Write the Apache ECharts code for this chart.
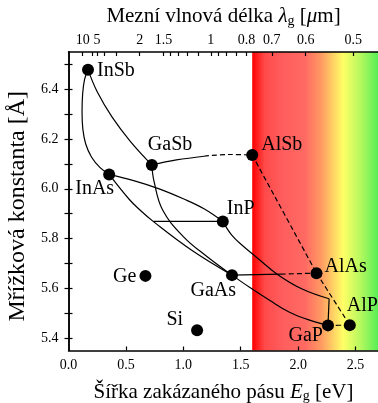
<!DOCTYPE html>
<html><head><meta charset="utf-8">
<script src="https://cdn.jsdelivr.net/npm/echarts@6/dist/echarts.min.js"></script>
<style>html,body{margin:0;padding:0;background:#fff}#c{width:378px;height:403px}</style>
</head><body><div id="c"></div>
<script>
// ---- data ----
const compounds = ['InSb','InAs','GaSb','AlSb','InP','GaAs','AlAs','GaP','AlP','Ge','Si'];
const gapEV =     [0.17, 0.354, 0.726, 1.6, 1.344, 1.424, 2.16, 2.26, 2.45, 0.67, 1.12];
const latticeA =  [6.479, 6.058, 6.096, 6.136, 5.869, 5.653, 5.661, 5.451, 5.452, 5.65, 5.431];

const inSbInAs = [[0.17,6.479],[0.14,6.44],[0.123,6.38],[0.118,6.31],[0.125,6.24],[0.15,6.18],[0.2,6.128],[0.275,6.085],[0.354,6.058]];
const inSbGaSb = [[0.17,6.479],[0.25,6.39],[0.38,6.288],[0.54,6.19],[0.726,6.096]];
const gaSbAlSbSolid = [[0.726,6.096],[0.94,6.116],[1.18,6.131]];
const gaSbAlSbDash = [[1.18,6.131],[1.4,6.138],[1.6,6.136]];
const alSbAlAs = [[1.6,6.136],[2.16,5.661]];
const alAsAlP = [[2.16,5.661],[2.45,5.452]];
const gaPAlP = [[2.26,5.451],[2.45,5.452]];
const gaAsAlAsSolid = [[1.424,5.653],[1.85,5.657]];
const gaAsAlAsDash = [[1.85,5.657],[2.16,5.661]];
const inAsInP = [[0.354,6.058],[0.575,6.032],[0.79,6.0],[1.0,5.96],[1.18,5.92],[1.344,5.869]];
const inAsGaAs = [[0.354,6.058],[0.53,5.957],[0.62,5.916],[0.74,5.868],[1.07,5.754],[1.424,5.653]];
const gaSbGaAs = [[0.726,6.096],[0.745,6.03],[0.82,5.915],[1.0,5.808],[1.2,5.73],[1.424,5.653]];
const gaAsGaP = [[1.424,5.653],[1.577,5.604],[1.751,5.552],[1.925,5.504],[2.099,5.472],[2.26,5.451]];
const inPGaPDirect = [[1.344,5.869],[1.42,5.815],[1.52,5.77],[1.65,5.72],[1.82,5.656],[2.04,5.596],[2.27,5.558]];
const inPGaPIndirect = [[2.27,5.558],[2.26,5.451]];
const inGaAsPMatched = [[0.74,5.869],[1.344,5.869]];

const xLabels = [0, 0.5, 1, 1.5, 2, 2.5];
const xTicks = [0.5, 1, 1.5, 2, 2.5];
const yLabels = [5.4, 5.6, 5.8, 6.0, 6.2, 6.4];
const yTicks = [5.4, 5.5, 5.6, 5.7, 5.8, 5.9, 6.0, 6.1, 6.2, 6.3, 6.4, 6.5];
const lambdaTicks = [10, 6, 5, 4, 3, 2, 1.5, 1.4, 1.3, 1.2, 1.1, 1, 0.95, 0.9, 0.85, 0.8, 0.7, 0.6, 0.5];
const lambdaLabels = [10, 5, 2, 1.5, 1, 0.8, 0.7, 0.6, 0.5];
const visibleStart = 1.6;

// ---- styles ----
const FONT = 'Liberation Serif';
const hc = 1.2398;
const labelPlace = {
  InSb: ['left', [9, 1]], InAs: ['right', [5, 14]], GaSb: ['left', [-4, -20]],
  AlSb: ['left', [9, -10]], InP: ['left', [4, -13]], GaAs: ['right', [4, 16]],
  AlAs: ['left', [8, -6]], GaP: ['right', [-5, 10]], AlP: ['left', [-3, -19]],
  Ge: ['right', [-9, 1]], Si: ['right', [-14, -11]]
};

const chart = echarts.init(document.getElementById('c'), null, {renderer: 'canvas'});
const XMIN = 0, XMAX = 2.7, YMIN = 5.35, YMAX = 6.55;

function lineSeries(data, dashed) {
  return {
    type: 'line', data: data, xAxisIndex: 0, yAxisIndex: 0,
    smooth: 0.4, symbol: 'none', silent: true, z: 3,
    lineStyle: {color: '#000', width: 1.2, type: dashed ? [5, 3] : 'solid'}
  };
}
const axisLineStyle = {show: true, lineStyle: {color: '#000', width: 1.5}};
const tickLine = {color: '#000', width: 1.2};
function rich(size) {
  return {
    t: {fontFamily: FONT, fontSize: size, lineHeight: size + 2, color: '#000'},
    i: {fontFamily: FONT, fontSize: size, lineHeight: size + 2, fontStyle: 'italic', color: '#000'},
    s: {fontFamily: FONT, fontSize: 14, lineHeight: 14, verticalAlign: 'bottom', color: '#000'}
  };
}

const option = {
  animation: false,
  backgroundColor: '#fff',
  grid: {left: 68.5, top: 52, width: 310, height: 298.5, outerBoundsMode: 'none', containLabel: false},
  xAxis: [{
    type: 'value', position: 'bottom', min: XMIN, max: XMAX, z: 10,
    axisLine: axisLineStyle, splitLine: {show: false},
    axisTick: {show: true, inside: true, length: 4, customValues: xTicks, lineStyle: tickLine},
    axisLabel: {customValues: xLabels, formatter: v => v.toFixed(1), fontFamily: FONT, fontSize: 14, color: '#000', margin: 8},
    name: '{t|Šířka zakázaného pásu }{i|E}{s|g}{t| [eV]}',
    nameLocation: 'middle', nameGap: 30, nameTextStyle: {rich: rich(21)}
  }, {
    type: 'value', position: 'top', min: XMIN, max: XMAX, z: 10,
    axisLine: axisLineStyle, splitLine: {show: false},
    axisTick: {show: true, inside: true, length: 4, customValues: lambdaTicks.map(l => hc / l), lineStyle: tickLine},
    axisLabel: {
      customValues: lambdaLabels.map(l => hc / l),
      formatter: v => {
        const l = hc / v;
        let best = lambdaLabels[0];
        lambdaLabels.forEach(x => { if (Math.abs(x - l) < Math.abs(best - l)) best = x; });
        return String(best);
      },
      fontFamily: FONT, fontSize: 14, color: '#000', margin: 5
    },
    name: '{t|Mezní vlnová délka }{i|λ}{s|g}{t| [}{i|μ}{t|m]}',
    nameLocation: 'middle', nameGap: 22, nameTextStyle: {rich: rich(21)}
  }],
  yAxis: [{
    type: 'value', position: 'left', min: YMIN, max: YMAX, z: 10,
    axisLine: axisLineStyle, splitLine: {show: false},
    axisTick: {show: true, inside: true, length: 4, customValues: yTicks, lineStyle: tickLine},
    axisLabel: {customValues: yLabels, formatter: v => v.toFixed(1), fontFamily: FONT, fontSize: 14, color: '#000', margin: 10},
    name: '{t|Mřížková konstanta [Å]}',
    nameLocation: 'middle', nameGap: 31, nameTextStyle: {rich: rich(24), padding: [0, 10, 0, 0]}
  }, {
    type: 'value', position: 'right', min: YMIN, max: YMAX, z: 10,
    axisLine: axisLineStyle, splitLine: {show: false},
    axisTick: {show: true, inside: true, length: 4, customValues: yTicks, lineStyle: tickLine},
    axisLabel: {show: false}
  }],
  series: [
    {
      type: 'scatter', data: [], xAxisIndex: 0, yAxisIndex: 0, silent: true, z: 1,
      markArea: {
        silent: true,
        itemStyle: {
          opacity: 1,
          color: {type: 'linear', x: 0, y: 0, x2: 1, y2: 0, colorStops: [
            {offset: 0, color: '#ff0000'},
            {offset: 0.1, color: '#ff4a4a'},
            {offset: 0.25, color: '#ff5e5e'},
            {offset: 0.42, color: '#ff6a62'},
            {offset: 0.55, color: '#ff9c62'},
            {offset: 0.72, color: '#ffff66'},
            {offset: 0.86, color: '#b4f85e'},
            {offset: 1, color: '#55ee55'}
          ]}
        },
        data: [[{coord: [visibleStart, YMIN]}, {coord: [XMAX, YMAX]}]]
      }
    },
    lineSeries(inSbInAs, false),
    lineSeries(inSbGaSb, false),
    lineSeries(gaSbAlSbSolid, false),
    lineSeries(gaSbAlSbDash, true),
    lineSeries(alSbAlAs, true),
    lineSeries(alAsAlP, true),
    lineSeries(gaPAlP, true),
    lineSeries(gaAsAlAsSolid, false),
    lineSeries(gaAsAlAsDash, true),
    lineSeries(inAsInP, false),
    lineSeries(inAsGaAs, false),
    lineSeries(gaSbGaAs, false),
    lineSeries(gaAsGaP, false),
    lineSeries(inPGaPDirect, false),
    lineSeries(inPGaPIndirect, false),
    lineSeries(inGaAsPMatched, false),
    {
      type: 'scatter', xAxisIndex: 0, yAxisIndex: 0, z: 5, silent: true,
      symbol: 'circle', symbolSize: 12, itemStyle: {color: '#000', opacity: 1},
      data: compounds.map((n, i) => ({
        name: n, value: [gapEV[i], latticeA[i]],
        label: {
          show: true, formatter: '{b}', position: 'inside',
          align: labelPlace[n][0], verticalAlign: 'middle', offset: labelPlace[n][1],
          fontFamily: FONT, fontSize: 20, color: '#000'
        }
      }))
    }
  ]
};
chart.setOption(option);
</script>
</body></html>
